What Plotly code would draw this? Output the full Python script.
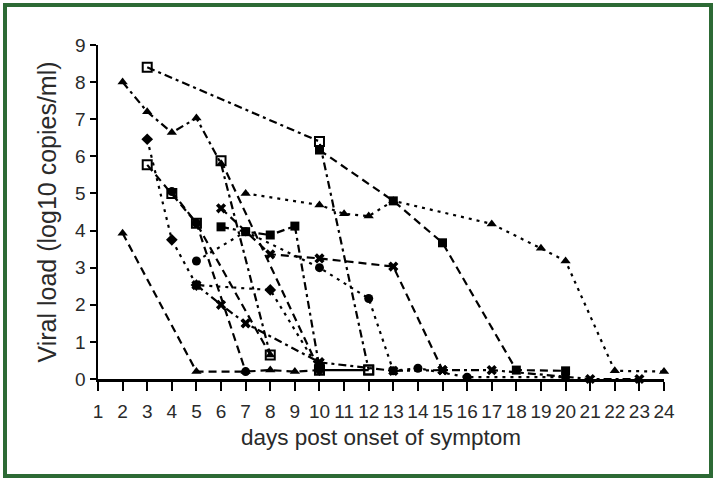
import plotly.graph_objects as go

# ---- data (days post onset, log10 copies/ml) ----
x_ticks = list(range(1, 25))
y_ticks = list(range(0, 10))
y_tick_labels = [str(v) for v in y_ticks]

p1_days = [3, 10, 12]
p1_vals = [8.4, 6.4, 0.24]
p2_days = [2, 3, 4, 5, 6, 8]
p2_vals = [8.0, 7.2, 6.64, 7.03, 5.8, 0.65]
p3_days = [7, 10, 11, 12, 13, 17, 19, 20, 22, 24]
p3_vals = [5.0, 4.69, 4.45, 4.39, 4.8, 4.18, 3.52, 3.18, 0.22, 0.2]
p4_days = [10, 13, 15, 18, 20]
p4_vals = [6.17, 4.8, 3.67, 0.24, 0.22]
p5_days = [6, 10]
p5_vals = [5.88, 0.24]
p6_days = [3, 4, 5, 8, 10]
p6_vals = [6.46, 3.75, 2.53, 2.4, 0.24]
p7_days = [3, 4, 5, 8]
p7_vals = [5.77, 5.0, 4.2, 0.65]
p8_days = [4, 5, 7]
p8_vals = [5.05, 4.2, 0.2]
p9_days = [2, 5, 7, 8, 9, 10]
p9_vals = [3.93, 0.2, 0.2, 0.24, 0.2, 0.24]
p10_days = [6, 7, 8, 9, 10]
p10_vals = [4.1, 3.97, 3.88, 4.12, 0.3]
p11_days = [5, 7, 10, 12, 13, 14, 16, 20]
p11_vals = [3.18, 3.97, 3.0, 2.17, 0.22, 0.29, 0.05, 0.05]
p12_days = [6, 8, 10, 13, 15]
p12_vals = [4.6, 3.36, 3.25, 3.03, 0.24]
p13_days = [5, 6, 7, 10]
p13_vals = [2.53, 2.0, 1.5, 0.45]
p14_days = [10, 13, 15, 17, 21, 23]
p14_vals = [0.45, 0.22, 0.24, 0.24, 0.0, 0.0]
p15_days = [10, 12]
p15_vals = [0.24, 0.24]

DOT = "3px,5px"
DASH = "8px,5px"
DASHDOT = "8px,4px,3px,4px"

series = [
    (p1_days, p1_vals, "square-open", DASHDOT),
    (p2_days, p2_vals, "triangle-up", DASHDOT),
    (p3_days, p3_vals, "triangle-up", DOT),
    (p4_days, p4_vals, "square", DASH),
    (p5_days, p5_vals, "square-open", DASH),
    (p6_days, p6_vals, "diamond", DOT),
    (p7_days, p7_vals, "square-open", DASH),
    (p8_days, p8_vals, "circle", DASH),
    (p9_days, p9_vals, "triangle-up", DASH),
    (p10_days, p10_vals, "square", DASHDOT),
    (p11_days, p11_vals, "circle", DOT),
    (p12_days, p12_vals, "x", DASH),
    (p13_days, p13_vals, "x", DASHDOT),
    (p14_days, p14_vals, "x", DASHDOT),
    (p15_days, p15_vals, "square-open", "solid"),
]

fig = go.Figure()
for d, v, sym, dash in series:
    fig.add_trace(go.Scatter(
        x=d, y=v, mode="lines+markers", cliponaxis=False,
        line=dict(color="black", width=2.2, dash=dash),
        marker=dict(symbol=sym, size=9, color="black",
                    line=dict(color="black", width=2 if "open" in sym else 0)),
        showlegend=False, hoverinfo="skip",
    ))

FW, FH = 716, 481
L, T, W, H = 98, 45, 566, 334
fig.update_layout(
    width=FW, height=FH,
    margin=dict(l=L, r=FW - L - W, t=T, b=FH - T - H),
    paper_bgcolor="white", plot_bgcolor="white",
    font=dict(family="Liberation Sans", color="#2a2a2a"),
    xaxis=dict(range=[1, 24], tickmode="array", tickvals=x_ticks,
               ticktext=[str(t) for t in x_ticks],
               showgrid=False, zeroline=False, showline=True,
               linecolor="black", linewidth=2.5, ticks="outside", ticklen=9,
               tickwidth=2, tickcolor="black", ticklabelstandoff=5,
               tickfont=dict(size=19),
               title=dict(text="days post onset of symptom", standoff=8,
                          font=dict(size=22.5))),
    yaxis=dict(range=[0, 9], tickmode="array", tickvals=y_ticks,
               ticktext=y_tick_labels,
               showgrid=False, zeroline=False, showline=True,
               linecolor="black", linewidth=2.5, ticks="outside", ticklen=6,
               tickwidth=2, tickcolor="black",
               tickfont=dict(size=19),
               title=dict(text="Viral load (log10 copies/ml)", standoff=12,
                          font=dict(size=25))),
)

def px_to_paper_x(px):
    return (px - L) / W

def px_to_paper_y(py):
    return (T + H - py) / H

fig.add_shape(type="rect", xref="paper", yref="paper",
              x0=px_to_paper_x(5), x1=px_to_paper_x(711),
              y0=px_to_paper_y(476), y1=px_to_paper_y(5),
              line=dict(color="#2d6a35", width=4), layer="below")

fig.write_html("out.html",
               config={"displayModeBar": False, "staticPlot": True},
               post_script="document.body.style.margin='0';"
                           "document.body.style.overflow='hidden';")
